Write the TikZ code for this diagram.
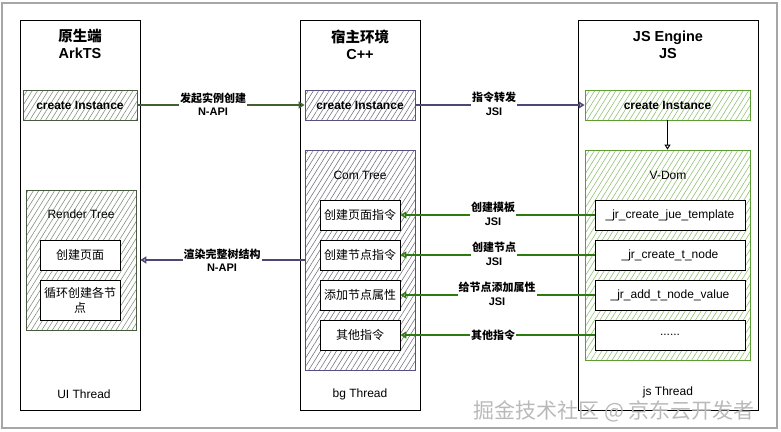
\documentclass[tikz,border=0pt]{standalone}
\usepackage{fontspec}
\setmainfont{Liberation Sans}
\newfontfamily\cjk{Noto Sans CJK SC}
\usetikzlibrary{arrows.meta,patterns.meta}
\definecolor{olivebd}{HTML}{4A5A40}
\definecolor{olivehatch}{HTML}{7E8A78}
\definecolor{purplebd}{HTML}{56517E}
\definecolor{purplehatch}{HTML}{70707A}
\definecolor{greenbd}{HTML}{5C9E34}
\definecolor{greenhatch}{HTML}{8CBF6C}
\definecolor{arrowgreen}{HTML}{2D7A10}
\definecolor{darkgreen}{HTML}{3F6230}
\definecolor{arrowpurple}{HTML}{4F4675}
\tikzset{
  lane/.style={draw, fill=white, line width=0.7pt, minimum height=390pt},
  hatchbox/.style 2 args={draw=#1, line width=0.8pt, pattern color=#2,
    pattern={Lines[angle=58,distance=4.5pt,line width=0.55pt]}},
  item/.style={draw, fill=white, line width=0.8pt, minimum width=80pt, minimum height=30pt,
    inner sep=1pt, align=center, font=\fontsize{12}{15}\selectfont\cjk},
  jsitem/.style={item, minimum width=150pt, font=\fontsize{12}{15}\selectfont},
  head/.style={align=center, font=\bfseries\fontsize{14.5}{17}\selectfont},
  plain/.style={font=\fontsize{12}{14}\selectfont},
  bold/.style={font=\bfseries\fontsize{12}{14}\selectfont},
  lbl/.style={fill=white, inner sep=1pt, align=center, font=\bfseries\fontsize{11}{13.5}\selectfont},
  link/.style={-{Triangle[open,length=6pt,width=7pt]}, line width=1.5pt}
}
\begin{document}
\begin{tikzpicture}[x=1pt,y=-1pt]
\useasboundingbox (0,0) rectangle (781,431);
\draw[gray!70, line width=2pt] (2,3) rectangle (777,428);

% three lanes
\node[lane, minimum width=120pt] (ark) at (80,215){};
\node[lane, minimum width=120pt] (cpp) at (360,215){};
\node[lane, minimum width=180pt] (js) at (668,215){};
\node[head] (arkhead) at (80,44){{\cjk 原生端}\\ArkTS};
\node[head] (cpphead) at (360,45){{\cjk 宿主环境}\\C++};
\node[head] (jshead) at (668,45){JS Engine\\JS};
\node[plain] (arkthread) at (84,394){UI Thread};
\node[plain] (cppthread) at (360,394){bg Thread};
\node[plain] (jsthread) at (668,392){js Thread};

% ArkTS side
\node[hatchbox={olivebd}{olivehatch}, bold, minimum width=114pt, minimum height=30pt] (arkinst) at (80,105){create Instance};
\node[hatchbox={olivebd}{olivehatch}, minimum width=110pt, minimum height=140pt] (rtree) at (81,260){};
\node[plain] (rtreetitle) at (81,214){Render Tree};
\node[item] (page) at (80,255){创建页面};
\node[item, minimum height=40pt] (loop) at (80,300){循环创建各节\\点};

% C++ side
\node[hatchbox={purplebd}{purplehatch}, bold, minimum width=110pt, minimum height=30pt] (cppinst) at (360,105){create Instance};
\node[hatchbox={purplebd}{purplehatch}, minimum width=110pt, minimum height=220pt] (comtree) at (360,260){};
\node[plain] (comtitle) at (360,175){Com Tree};
\node[item] (cmd1) at (360,215){创建页面指令};
\node[item] (cmd2) at (360,255){创建节点指令};
\node[item] (cmd3) at (360,295){添加节点属性};
\node[item] (cmd4) at (360,335){其他指令};

% JS side
\node[hatchbox={greenbd}{greenhatch}, bold, minimum width=165pt, minimum height=30pt] (jsinst) at (667.5,105){create Instance};
\node[hatchbox={greenbd}{greenhatch}, minimum width=165pt, minimum height=210pt] (vdom) at (667.5,255){};
\node[plain] (vdomtitle) at (668,175){V-Dom};
\node[jsitem] (fn1) at (670,215){\_jr\_create\_jue\_template};
\node[jsitem] (fn2) at (670,255){\_jr\_create\_t\_node};
\node[jsitem] (fn3) at (670,295){\_jr\_add\_t\_node\_value};
\node[jsitem] (fn4) at (670,335){......};

% connectors
\draw[link, darkgreen](arkinst) -- (cppinst);
\draw[link, arrowpurple](cppinst) -- (jsinst);
\draw[-{Triangle[open,length=5pt,width=6pt]}, line width=0.9pt](jsinst) -- (vdom);
\draw[link, arrowpurple](comtree.west) -- (ark.east |- comtree.west);
\draw[link, arrowgreen](fn1) -- (cmd1);
\draw[link, arrowgreen](fn2) -- (cmd2);
\draw[link, arrowgreen](fn3) -- (cmd3);
\draw[link, arrowgreen](fn4) -- (cmd4);

% labels
\node[lbl] (l1) at (213,104){{\cjk 发起实例创建}\\N-API};
\node[lbl] (l2) at (494,104){{\cjk 指令转发}\\JSI};
\node[lbl] (l3) at (222,260){{\cjk 渲染完整树结构}\\N-API};
\node[lbl] (l4) at (493,214){{\cjk 创建模板}\\JSI};
\node[lbl] (l5) at (494,254){{\cjk 创建节点}\\JSI};
\node[lbl] (l6) at (497,294){{\cjk 给节点添加属性}\\JSI};
\node[lbl] (l7) at (493,335){\cjk 其他指令};

% watermark
\node[text=gray!55, font=\fontsize{21}{23}\selectfont\cjk] (mark) at (614,411){掘金技术社区 @ 京东云开发者};
\end{tikzpicture}
\end{document}
